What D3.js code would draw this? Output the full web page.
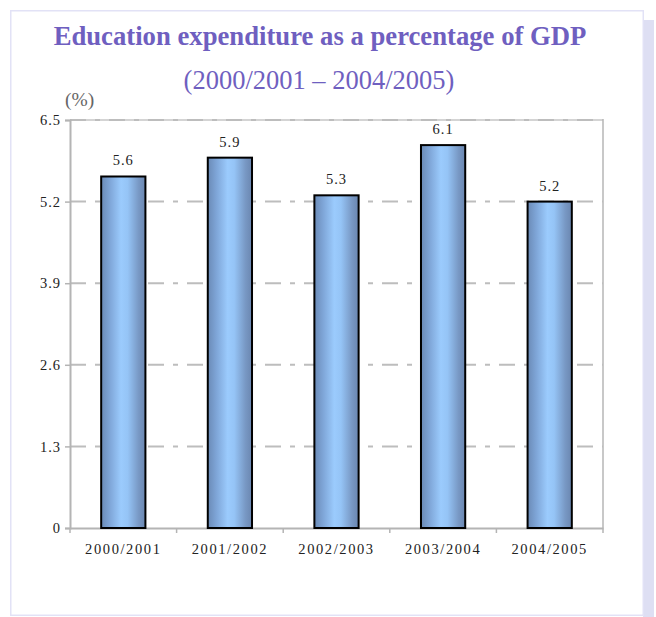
<!DOCTYPE html>
<html>
<head>
<meta charset="utf-8">
<script src="https://cdn.jsdelivr.net/npm/d3@7"></script>
<style>
  html, body { margin: 0; padding: 0; background: #ffffff; }
  svg { display: block; }
</style>
</head>
<body>
<svg id="chart" width="656" height="617"></svg>
<script>
const categories = ["2000/2001", "2001/2002", "2002/2003", "2003/2004", "2004/2005"];
const values = [5.6, 5.9, 5.3, 6.1, 5.2];
const yTicks = [0, 1.3, 2.6, 3.9, 5.2, 6.5];
const titleText = "Education expenditure as a percentage of GDP";
const subtitleText = "(2000/2001 \u2013 2004/2005)";
const unitText = "(%)";

const svg = d3.select("#chart");
const W = 656, H = 617;
const serif = "Liberation Serif, Times New Roman, serif";
const purple = "#6f5fc0";

// Frame
svg.append("rect").attr("x", 0).attr("y", 0).attr("width", W).attr("height", H).attr("fill", "#ffffff");
svg.append("rect").attr("x", 643).attr("y", 20).attr("width", 11).attr("height", 597).attr("fill", "#dedff3");
svg.append("rect").attr("x", 10.75).attr("y", 10.75).attr("width", 632.5).attr("height", 604.5)
  .attr("fill", "none").attr("stroke", "#e2e2f6").attr("stroke-width", 1.5);

// Titles
svg.append("text").attr("x", 320).attr("y", 45).attr("text-anchor", "middle")
  .attr("font-family", serif).attr("font-weight", "bold").attr("font-size", 26.7)
  .attr("fill", purple).text(titleText);
svg.append("text").attr("x", 319).attr("y", 89).attr("text-anchor", "middle")
  .attr("font-family", serif).attr("font-size", 26.5)
  .attr("fill", purple).text(subtitleText);
svg.append("text").attr("x", 65).attr("y", 106)
  .attr("font-family", serif).attr("font-size", 19.5).attr("fill", "#666")
  .text(unitText);

// Plot area
const x0 = 70, x1 = 603, yTop = 120, yBot = 528;
const x = d3.scaleBand().domain(categories).range([x0, x1]).paddingInner(0.585).paddingOuter(0.2925);
const y = d3.scaleLinear().domain([0, 6.5]).range([yBot, yTop]);

// Defs gradient
const defs = svg.append("defs");
const grad = defs.append("linearGradient").attr("id", "barGrad")
  .attr("x1", "0%").attr("x2", "100%").attr("y1", "0%").attr("y2", "0%");
grad.append("stop").attr("offset", "0%").attr("stop-color", "#6a8ab6");
grad.append("stop").attr("offset", "20%").attr("stop-color", "#7fa6d8");
grad.append("stop").attr("offset", "45%").attr("stop-color", "#9bcbfd");
grad.append("stop").attr("offset", "60%").attr("stop-color", "#95c4f6");
grad.append("stop").attr("offset", "85%").attr("stop-color", "#7898c4");
grad.append("stop").attr("offset", "100%").attr("stop-color", "#6a86b0");

// Plot border (top and right)
svg.append("line").attr("x1", x0).attr("x2", x1).attr("y1", yTop).attr("y2", yTop)
  .attr("stroke", "#d4d4d4").attr("stroke-width", 2);
svg.append("line").attr("x1", x1).attr("x2", x1).attr("y1", yTop - 1).attr("y2", yBot)
  .attr("stroke", "#c8c8c8").attr("stroke-width", 2);

// Gridlines
svg.append("g").selectAll("line").data(yTicks.filter(d => d > 0)).join("line")
  .attr("x1", x0).attr("x2", x1)
  .attr("y1", d => y(d)).attr("y2", d => y(d))
  .attr("stroke", "#bdbdbd").attr("stroke-width", 2)
  .attr("stroke-dasharray", "16,9,5,9");

// Y axis
const yAxis = d3.axisLeft(y).tickValues(yTicks).tickSize(5).tickPadding(4)
  .tickFormat(d => d === 0 ? "0" : d3.format(".1f")(d));
const gy = svg.append("g").attr("transform", `translate(${x0},0)`).call(yAxis);
gy.attr("font-family", serif);
gy.select(".domain").attr("stroke", "#b4b4b4").attr("stroke-width", 2);
gy.selectAll(".tick line").attr("stroke", "#b4b4b4").attr("stroke-width", 1.5);
gy.selectAll(".tick text").attr("font-family", serif).attr("font-size", 14.5)
  .attr("fill", "#222").attr("letter-spacing", "1px");

// X axis
const xAxis = d3.axisBottom(x).tickSize(0).tickPadding(16);
const gx = svg.append("g").attr("transform", `translate(0,${yBot})`).call(xAxis);
gx.attr("font-family", serif);
gx.select(".domain").attr("stroke", "#b4b4b4").attr("stroke-width", 2);
gx.selectAll(".tick text").attr("font-family", serif).attr("font-size", 14.5)
  .attr("fill", "#222").attr("letter-spacing", "1.6px");
// Category boundary ticks
const bounds = d3.range(categories.length + 1).map(i => x0 + i * (x1 - x0) / categories.length);
gx.append("g").selectAll("line").data(bounds).join("line")
  .attr("x1", d => d).attr("x2", d => d).attr("y1", 0).attr("y2", 5)
  .attr("stroke", "#b4b4b4").attr("stroke-width", 1.5);

// Bars
svg.append("g").selectAll("rect").data(values).join("rect")
  .attr("x", (d, i) => x(categories[i]))
  .attr("y", d => y(d))
  .attr("width", x.bandwidth())
  .attr("height", d => yBot - y(d))
  .attr("fill", "url(#barGrad)")
  .attr("stroke", "#000").attr("stroke-width", 2);

// Value labels
svg.append("g").selectAll("text").data(values).join("text")
  .attr("x", (d, i) => x(categories[i]) + x.bandwidth() / 2)
  .attr("y", d => y(d) - 11)
  .attr("text-anchor", "middle")
  .attr("font-family", serif).attr("font-size", 14.5)
  .attr("letter-spacing", "1px").attr("fill", "#222")
  .text(d => d3.format(".1f")(d));
</script>
</body>
</html>
